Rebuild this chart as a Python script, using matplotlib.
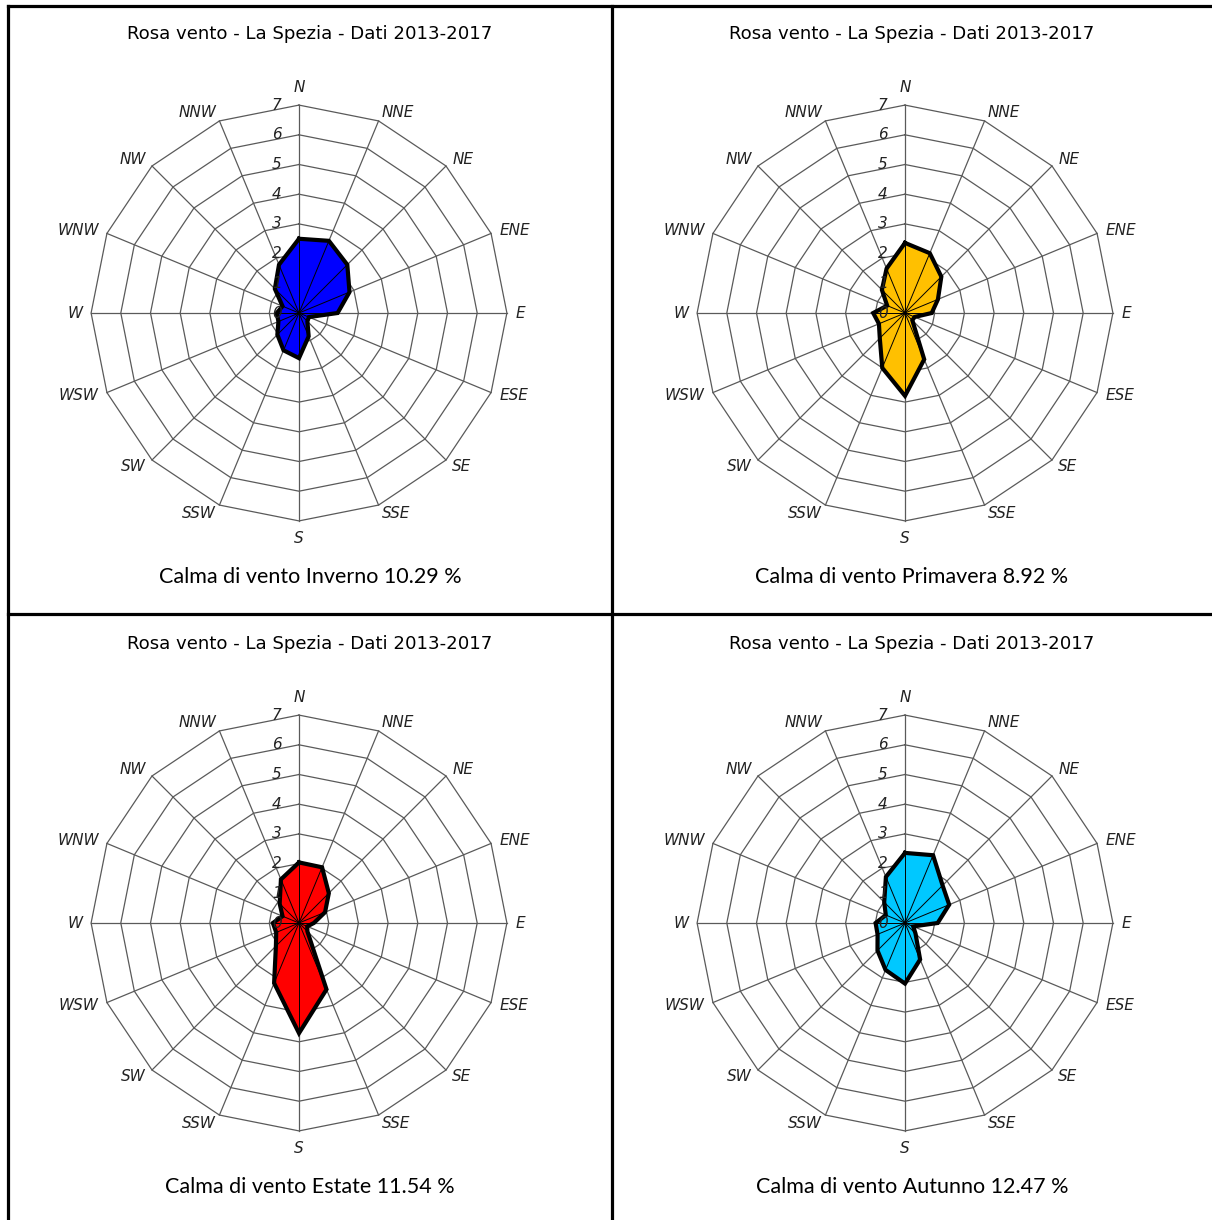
"""
Rose dei venti stagionali - La Spezia 2013-2017 (4 pannelli radar)
"""

import numpy as np
import matplotlib
matplotlib.use('Agg')
import matplotlib.pyplot as plt
from matplotlib.lines import Line2D

# direzioni (da N in senso orario)
directions = ['N', 'NNE', 'NE', 'ENE', 'E', 'ESE', 'SE', 'SSE',
              'S', 'SSW', 'SW', 'WSW', 'W', 'WNW', 'NW', 'NNW']

# frequenze (%)
inverno = [2.50, 2.63, 2.30, 1.84, 1.30, 0.36, 0.40, 0.85,
           1.52, 1.36, 1.03, 0.75, 0.75, 0.60, 1.15, 1.76]
primavera = [2.36, 2.18, 1.73, 1.20, 0.90, 0.35, 0.35, 1.69,
             2.79, 2.00, 1.20, 0.95, 1.07, 0.65, 1.10, 1.62]
estate = [2.04, 2.03, 1.42, 0.95, 0.50, 0.30, 0.40, 2.42,
          3.71, 2.19, 1.10, 0.83, 0.88, 0.60, 0.92, 1.59]
autunno = [2.36, 2.47, 1.79, 1.61, 1.10, 0.30, 0.50, 1.33,
           2.04, 1.71, 1.31, 1.00, 0.99, 0.70, 0.99, 1.68]

seasons = ['Inverno', 'Primavera', 'Estate', 'Autunno']
calma = [10.29, 8.92, 11.54, 12.47]
colors = ['#0000FF', '#FFC000', '#FF0000', '#00C8FF']
rings = [1, 2, 3, 4, 5, 6, 7]
title = 'Rosa vento - La Spezia - Dati 2013-2017'

W, H = 1212, 1220
fig = plt.figure(figsize=(W / 100, H / 100), dpi=100)

theta = np.deg2rad(np.arange(16) * 22.5)
sx, sy = np.sin(theta), np.cos(theta)

px_unit = 29.7          # pixel per unità radiale
half = 290              # semi-lato assi in pixel
centers = [(299, 313), (905, 313), (299, 923), (905, 923)]
text_x = [310, 912, 310, 912]


def draw_rose(ax, values, color):
    v = np.array(values)
    # griglia poligonale
    for r in rings:
        ax.plot(np.append(r * sx, r * sx[0]), np.append(r * sy, r * sy[0]),
                color='#5a5a5a', lw=0.9, zorder=1)
    for i in range(16):
        ax.plot([0, 7 * sx[i]], [0, 7 * sy[i]], color='#5a5a5a', lw=0.9, zorder=1)
    # area dati
    ax.fill(v * sx, v * sy, color=color, zorder=2, lw=0)
    for i in range(16):
        ax.plot([0, v[i] * sx[i]], [0, v[i] * sy[i]], color='black', lw=0.7, zorder=3)
    ax.plot(np.append(v * sx, v[0] * sx[0]), np.append(v * sy, v[0] * sy[0]),
            color='black', lw=3, zorder=4, solid_joinstyle='miter')
    # etichette radiali
    for r in range(0, 8):
        ax.text(-0.75, r, str(r), ha='center', va='center', fontsize=11,
                style='italic', color='#222222', zorder=5)
    # etichette direzioni
    for i, d in enumerate(directions):
        if abs(sx[i]) < 0.1:
            rl, ha = 7.6, 'center'
        else:
            rl, ha = 7.3, ('left' if sx[i] > 0 else 'right')
        ax.text(rl * sx[i], rl * sy[i], d, ha=ha, va='center', fontsize=11,
                style='italic', color='#222222')
    lim = half / px_unit
    ax.set_xlim(-lim, lim)
    ax.set_ylim(-lim, lim)
    ax.set_aspect('equal')
    ax.axis('off')


data = [inverno, primavera, estate, autunno]
for k in range(4):
    cx, cy = centers[k]
    ax = fig.add_axes([(cx - half) / W, 1 - (cy + half) / H, 2 * half / W, 2 * half / H])
    draw_rose(ax, data[k], colors[k])
    ty = 34 if k < 2 else 644
    by = 577 if k < 2 else 1187
    fig.text(text_x[k] / W, 1 - ty / H, title, ha='center', va='center',
             fontsize=13.1, family='DejaVu Sans')
    fig.text(text_x[k] / W, 1 - by / H,
             f'Calma di vento {seasons[k]} {calma[k]:.2f} %',
             ha='center', va='center', fontsize=15.5, family=['Lato', 'DejaVu Sans'])

# cornici
lw = 2.3
fig.add_artist(Line2D([8 / W, 8 / W], [0, 1 - 6 / H], color='black', lw=lw))
fig.add_artist(Line2D([8 / W, 1], [1 - 6 / H, 1 - 6 / H], color='black', lw=lw))
fig.add_artist(Line2D([612 / W, 612 / W], [0, 1 - 6 / H], color='black', lw=lw))
fig.add_artist(Line2D([8 / W, 1], [1 - 614 / H, 1 - 614 / H], color='black', lw=lw))

plt.savefig('out.png', dpi=100)
